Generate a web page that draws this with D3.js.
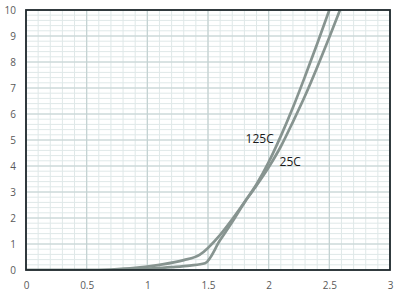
<!DOCTYPE html>
<html>
<head>
<meta charset="utf-8">
<script src="https://cdn.jsdelivr.net/npm/d3@7"></script>
<style>
  body { margin: 0; background: #fff; }
  text { font-family: "Open Sans", "Liberation Sans", sans-serif; }
</style>
</head>
<body>
<div id="chart"></div>
<script>
// values (volts on x, amps on y)
var xTicks = [0, 0.5, 1, 1.5, 2, 2.5, 3];
var yTicks = [0, 1, 2, 3, 4, 5, 6, 7, 8, 9, 10];

var v125 = [0, 0.5, 0.7, 0.9, 1.1, 1.3, 1.43, 1.6, 1.7, 1.8, 1.9, 2.0, 2.1, 2.2, 2.3, 2.4, 2.5, 2.588];
var i125 = [0, 0, 0.02, 0.08, 0.2, 0.38, 0.58, 1.35, 1.95, 2.6, 3.25, 3.95, 4.75, 5.7, 6.7, 7.8, 8.95, 10];

var v25 = [0, 0.8, 1.0, 1.2, 1.35, 1.475, 1.6, 1.71, 1.8, 1.9, 2.0, 2.1, 2.2, 2.3, 2.4, 2.5];
var i25 = [0, 0, 0.05, 0.11, 0.17, 0.26, 1.15, 1.92, 2.6, 3.3, 4.15, 5.15, 6.25, 7.45, 8.7, 10];

var seriesNames = ["125C", "25C"];
// where the label text starts, in chart units
var labelX = [1.81, 2.09];
var labelY = [4.9, 4.0];

var W = 399, H = 297;
var pLeft = 26, pRight = 390, pTop = 10, pBottom = 270;

var svg = d3.select("#chart").append("svg")
  .attr("width", W)
  .attr("height", H);

var x = d3.scaleLinear().domain([0, 3]).range([pLeft, pRight]);
var y = d3.scaleLinear().domain([0, 10]).range([pBottom, pTop]);

// minor grid: every 0.1 V and every 0.2 A
var xMinor = d3.range(31).map(function(i) { return i / 10; });
var yMinor = d3.range(51).map(function(i) { return i / 5; });

svg.append("g").selectAll("line")
  .data(xMinor)
  .enter().append("line")
  .attr("x1", function(d) { return x(d); })
  .attr("x2", function(d) { return x(d); })
  .attr("y1", pTop).attr("y2", pBottom)
  .style("stroke", "#dfe8e8")
  .style("stroke-width", 1);

svg.append("g").selectAll("line")
  .data(yMinor)
  .enter().append("line")
  .attr("y1", function(d) { return y(d); })
  .attr("y2", function(d) { return y(d); })
  .attr("x1", pLeft).attr("x2", pRight)
  .style("stroke", "#dfe8e8")
  .style("stroke-width", 1);

// major grid
svg.append("g").selectAll("line")
  .data(xTicks)
  .enter().append("line")
  .attr("x1", function(d) { return x(d); })
  .attr("x2", function(d) { return x(d); })
  .attr("y1", pTop).attr("y2", pBottom)
  .style("stroke", "#c3d1d1")
  .style("stroke-width", 1.2);

svg.append("g").selectAll("line")
  .data(yTicks)
  .enter().append("line")
  .attr("y1", function(d) { return y(d); })
  .attr("y2", function(d) { return y(d); })
  .attr("x1", pLeft).attr("x2", pRight)
  .style("stroke", "#c3d1d1")
  .style("stroke-width", 1.2);

// the two curves
var curves = [
  d3.zip(v125, i125),
  d3.zip(v25, i25)
];

var line = d3.line()
  .x(function(d) { return x(d[0]); })
  .y(function(d) { return y(d[1]); })
  .curve(d3.curveMonotoneX);

svg.append("clipPath").attr("id", "clip")
  .append("rect")
  .attr("x", pLeft).attr("y", pTop)
  .attr("width", pRight - pLeft).attr("height", pBottom - pTop);

svg.append("g").attr("clip-path", "url(#clip)")
  .selectAll("path")
  .data(curves)
  .enter().append("path")
  .attr("d", line)
  .style("fill", "none")
  .style("stroke", "#879490")
  .style("stroke-width", 2.7)
  .style("stroke-linejoin", "round");

// frame
svg.append("rect")
  .attr("x", pLeft).attr("y", pTop)
  .attr("width", pRight - pLeft).attr("height", pBottom - pTop)
  .style("fill", "none")
  .style("stroke", "#1f282d")
  .style("stroke-width", 1.8);

// axes
var xAxis = d3.axisBottom(x)
  .tickValues(xTicks)
  .tickSize(0)
  .tickPadding(12)
  .tickFormat(function(d) { return String(d); });

var yAxis = d3.axisLeft(y)
  .tickValues(yTicks)
  .tickSize(0)
  .tickPadding(10)
  .tickFormat(function(d) { return String(d); });

var gx = svg.append("g")
  .attr("transform", "translate(0," + pBottom + ")")
  .call(xAxis);
var gy = svg.append("g")
  .attr("transform", "translate(" + pLeft + ",0)")
  .call(yAxis);

[gx, gy].forEach(function(g) {
  g.select(".domain").remove();
  g.selectAll("text")
    .style("font-size", "10px")
    .style("fill", "#595959");
});

// series labels
svg.append("g").selectAll("text")
  .data(seriesNames)
  .enter().append("text")
  .attr("x", function(d, i) { return x(labelX[i]); })
  .attr("y", function(d, i) { return y(labelY[i]); })
  .style("font-size", "12px")
  .style("fill", "#1a1a1a")
  .text(function(d) { return d; });
</script>
</body>
</html>
